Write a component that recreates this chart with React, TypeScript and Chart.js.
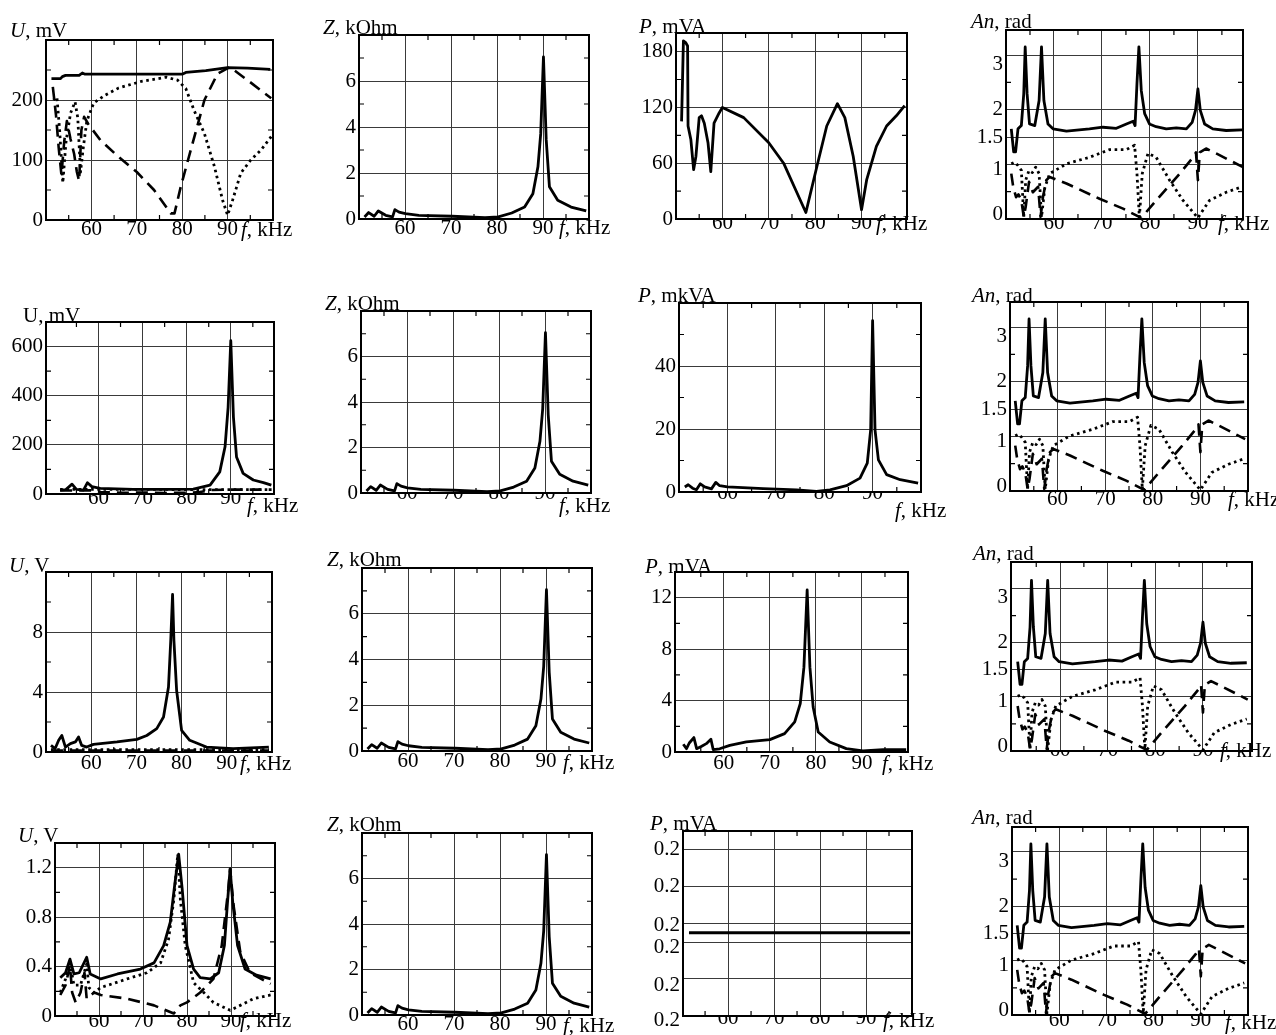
import React, { useEffect, useRef } from "react";
import { Chart, registerables } from "chart.js";
Chart.register(...registerables);

const FONT = '"Liberation Serif", "Times New Roman", serif';
const FS = 21;

// ---------- frequency ticks ----------
const fTicks = [60, 70, 80, 90];
const fMinor = [55, 65, 75, 85, 95];

// ---------- Row 1: U, mV ----------
const u1SolidF = [51.2, 53.2, 53.6, 54.3, 57.3, 58.0, 58.6, 60, 70, 80, 80.8, 85.2, 90, 94.4, 99.4];
const u1SolidV = [235.6, 235.6, 239, 241, 241, 245, 243, 243, 243, 243, 246, 249, 254, 253, 251];
const u1DotF = [51.6, 52.4, 53.0, 53.7, 54.4, 55.4, 56.4, 57.0, 57.6, 58.2, 59.0, 60.5, 63, 66, 71, 76.5, 79, 80.8, 82.6, 84.9, 87.1, 88.9, 90.0, 91.1, 92.9, 95.1, 97.4, 99.6];
const u1DotV = [200, 205, 150, 62, 130, 178, 197, 170, 80, 120, 165, 195, 208, 220, 231, 238, 233, 219, 183, 144, 89, 33, 8, 33, 78, 100, 117, 139];
const u1DashF = [51.5, 52.2, 52.8, 53.4, 54.0, 54.6, 55.4, 56.2, 56.8, 57.3, 57.8, 58.4, 59.3, 62, 66, 70, 73.8, 77.5, 78.3, 79.7, 81.9, 84.9, 87.8, 90.5, 94.4, 99.6];
const u1DashV = [222, 175, 120, 75, 130, 165, 135, 110, 80, 65, 150, 172, 160, 133, 105, 80, 50, 11, 11, 56, 117, 200, 244, 255, 233, 203];

// ---------- Z, kOhm (same in every row) ----------
const zF = [51.2, 52.1, 53.3, 54.2, 55.8, 57.3, 57.8, 58.7, 60.1, 63, 70.2, 77.4, 80.3, 83.2, 86, 87.8, 88.9, 89.5, 90.1, 90.7, 91.4, 93.2, 96.1, 99.4];
const zV = [0.09, 0.28, 0.12, 0.35, 0.16, 0.09, 0.41, 0.30, 0.23, 0.16, 0.12, 0.06, 0.09, 0.26, 0.52, 1.1, 2.27, 3.7, 7.05, 3.44, 1.4, 0.82, 0.52, 0.35];

// ---------- Row 1: P, mVA ----------
const p1F = [51.2, 51.6, 52.1, 52.5, 52.6, 53.2, 53.8, 54.3, 55.0, 55.5, 56.1, 56.9, 57.5, 58.2, 59.3, 60, 64.6, 70, 73.2, 76.1, 78, 80.4, 82.5, 84.8, 86.4, 88.2, 90, 91.1, 93.2, 95.4, 97.5, 99.3];
const p1V = [105, 191.5, 189.7, 186, 100, 85.5, 53, 67.5, 109, 111, 103, 82, 51, 103, 114, 120, 109, 82, 60, 28, 7, 57, 100, 124, 109, 67.5, 10, 42, 78, 100, 111, 122];

// ---------- An, rad (same in every row) ----------
const anSolidF = [51.1, 51.6, 52.0, 52.5, 53.2, 53.7, 54.0, 54.4, 54.9, 56.0, 56.9, 57.4, 57.9, 58.75, 59.8, 62.6, 67.4, 70.2, 73, 75.1, 76.5, 76.9, 77.3, 77.7, 78.2, 78.9, 79.9, 81.3, 83.4, 85.5, 87.6, 88.8, 89.5, 90.0, 90.5, 91.4, 93.1, 95.9, 99.2];
const anSolidV = [1.65, 1.23, 1.23, 1.65, 1.71, 2.29, 3.15, 2.29, 1.74, 1.71, 2.17, 3.15, 2.17, 1.74, 1.65, 1.61, 1.65, 1.68, 1.66, 1.74, 1.79, 1.71, 2.48, 3.15, 2.35, 1.93, 1.74, 1.69, 1.65, 1.67, 1.65, 1.77, 1.99, 2.38, 1.99, 1.74, 1.65, 1.62, 1.63];
const anDotF = [51.1, 51.8, 52.5, 53.2, 53.7, 54.1, 54.8, 55.5, 56.2, 56.9, 57.4, 58.1, 59.1, 62.6, 67.4, 71.6, 75.1, 76.8, 77.3, 77.8, 78.4, 79.6, 81.3, 84.1, 86.9, 90.0, 92.4, 95.9, 99.2];
const anDotV = [1.01, 1.04, 0.98, 0.89, 0.03, 0.71, 0.89, 0.85, 0.95, 0.83, 0.03, 0.58, 0.83, 1.01, 1.13, 1.27, 1.27, 1.35, 0.83, 0.03, 0.83, 1.2, 1.13, 0.71, 0.34, 0.02, 0.34, 0.49, 0.59];
const anDashF = [51.1, 51.5, 52.1, 52.6, 53.2, 53.7, 54.1, 54.8, 55.6, 56.7, 57.2, 57.7, 58.4, 59.1, 62.6, 69.5, 74.4, 78.2, 81.3, 86.2, 89.0, 89.6, 90.0, 90.4, 91.7, 93.8, 99.4];
const anDashV = [0.83, 0.59, 0.40, 0.45, 0.34, 0.04, 0.22, 0.68, 0.49, 0.59, 0.04, 0.40, 0.71, 0.77, 0.65, 0.37, 0.19, 0.02, 0.34, 0.83, 1.13, 1.22, 0.71, 1.22, 1.29, 1.2, 0.95];

// ---------- Row 2: U, mV ----------
const u2SolidF = [51.3, 52.6, 54.0, 55.0, 56.6, 57.5, 58.5, 60.4, 67.9, 75.5, 81.5, 85.3, 87.5, 88.7, 89.4, 90.0, 90.6, 91.3, 92.8, 95.1, 97.4, 99.2];
const u2SolidV = [16, 18, 40, 19, 16, 46, 30, 23, 19, 19, 20, 36, 90, 192, 354, 624, 313, 151, 84, 57, 46, 36];
const u2DashF = [51.3, 55, 59, 60.5, 65, 70, 75, 80, 83, 85.5, 90, 99.2];
const u2DashV = [14, 14, 15, 8, 5, 6, 4, 5, 8, 16, 18, 18];
const u2DotF = [51.3, 60, 70, 80, 90, 99.2];
const u2DotV = [19, 19, 19, 18, 18, 18];

// ---------- Row 2: P, mkVA ----------
const p2F = [51.2, 51.9, 52.8, 53.6, 54.4, 55.3, 56.7, 57.6, 58.4, 60, 67.4, 74.3, 78.4, 81.2, 84.6, 87.4, 88.9, 89.6, 90, 90.5, 91.2, 92.9, 95.7, 99.4];
const p2V = [1.6, 2.3, 1.2, 0.7, 2.6, 1.6, 1.0, 3.05, 2.0, 1.6, 1.05, 0.7, 0.2, 0.7, 2.0, 4.4, 9.2, 19.7, 54.4, 19.7, 10.2, 5.5, 3.9, 2.8];

// ---------- Row 3: U, V ----------
const u3SolidF = [51.1, 52.0, 52.8, 53.5, 54.3, 55.4, 56.5, 57.2, 57.9, 59.0, 60.5, 65.7, 70.1, 72.3, 74.5, 76.0, 77.1, 77.6, 78.0, 78.3, 78.9, 80.0, 81.8, 85.5, 91.4, 99.3];
const u3SolidV = [0.44, 0.22, 0.78, 1.1, 0.33, 0.56, 0.67, 1.0, 0.44, 0.33, 0.51, 0.67, 0.84, 1.1, 1.56, 2.33, 4.33, 7.44, 10.5, 7.44, 4.1, 1.44, 0.78, 0.33, 0.22, 0.33];
const u3DotF = [51.1, 60, 70, 80, 90, 99.3];
const u3DotV = [0.16, 0.16, 0.15, 0.15, 0.15, 0.16];
const u3DashF = [51.1, 60, 70, 80, 90, 99.3];
const u3DashV = [0.1, 0.1, 0.1, 0.1, 0.1, 0.1];

// ---------- Row 3: P, mVA ----------
const p3F = [51.2, 51.9, 52.5, 53.5, 54.1, 55.2, 56.2, 57.2, 57.7, 59.1, 61.3, 64.9, 70, 73.2, 75.4, 76.6, 77.4, 78.1, 78.7, 79.4, 80.5, 83, 86.6, 90.2, 94.6, 99.6];
const p3V = [0.6, 0.26, 0.7, 1.12, 0.26, 0.45, 0.65, 0.99, 0.18, 0.25, 0.52, 0.78, 0.96, 1.43, 2.34, 3.77, 6.6, 12.6, 6.6, 3.5, 1.56, 0.78, 0.26, 0.08, 0.18, 0.18];

// ---------- Row 4: U, V ----------
const u4SolidF = [51.2, 52.4, 53.4, 54.3, 55.5, 57.2, 58.0, 60.4, 64.2, 69.4, 72.5, 74.7, 76.2, 77.1, 78.1, 78.9, 80, 81.5, 83, 85.3, 87.2, 88.5, 89.2, 89.8, 90.4, 91.5, 93.2, 95.8, 99];
const u4SolidV = [0.31, 0.35, 0.46, 0.34, 0.35, 0.475, 0.34, 0.3, 0.34, 0.38, 0.43, 0.57, 0.76, 1.03, 1.31, 1.03, 0.57, 0.38, 0.31, 0.3, 0.35, 0.57, 0.92, 1.19, 0.92, 0.57, 0.38, 0.33, 0.3];
const u4DashF = [51.2, 52.4, 53.4, 53.9, 54.7, 55.8, 56.7, 57.2, 58.9, 60.4, 66.4, 72.5, 77, 78.5, 80, 83, 86, 87.9, 89.4, 89.8, 90.6, 92.1, 94.3, 99];
const u4DashV = [0.17, 0.25, 0.41, 0.19, 0.11, 0.19, 0.35, 0.14, 0.19, 0.17, 0.14, 0.086, 0.02, 0.086, 0.11, 0.19, 0.3, 0.57, 1.03, 1.19, 0.89, 0.52, 0.35, 0.26];
const u4DotF = [51.2, 52.4, 53.4, 54.3, 55.8, 57.2, 57.7, 58.9, 60.4, 66.4, 70.9, 74, 75.8, 77, 77.9, 78.5, 79.6, 81.5, 83.8, 86, 89.8, 92.1, 95.1, 99];
const u4DotV = [0.19, 0.3, 0.43, 0.25, 0.25, 0.42, 0.23, 0.19, 0.23, 0.3, 0.35, 0.43, 0.62, 0.94, 1.31, 0.94, 0.57, 0.27, 0.19, 0.11, 0.046, 0.086, 0.14, 0.17];

// ---------- Row 4: P, mVA (constant) ----------
const p4F = [51.5, 99.6];
const p4V = [0.19999, 0.19999];
const p4Ticks = [0.1999, 0.19994, 0.19998, 0.2, 0.20004, 0.20008];

type Style = "solid" | "dash" | "dot";
type Series = { f: number[]; v: number[]; style: Style };
type Panel = {
  rect: [number, number, number, number];
  xr: [number, number];
  yr: [number, number];
  yTicks: number[];
  yMinor: number[];
  yOff?: number[];
  yFmt?: (v: number) => string;
  xGap: number;
  series: Series[];
  title: { sym: string; italic: boolean; unit: string; x: number; base: number };
  fl: { x: number; base: number };
};

const zSeries: Series[] = [{ f: zF, v: zV, style: "solid" }];
const anSeries: Series[] = [
  { f: anDashF, v: anDashV, style: "dash" },
  { f: anDotF, v: anDotV, style: "dot" },
  { f: anSolidF, v: anSolidV, style: "solid" },
];
const zTicks = [0, 2, 4, 6];
const zMinor = [1, 3, 5, 7];
const anTicks = [0, 1, 1.5, 2, 3];
const anMinor = [0.5, 2.5];
const anOff = [-5, 5, 0, 0, 9];
const p4Off = [4, 6, 5, 2, 0, 0];

const panels: Panel[] = [
  // Row 1
  { rect: [46, 40, 273, 220], xr: [50, 100], yr: [0, 300], yTicks: [0, 100, 200], yMinor: [50, 150, 250], xGap: 16,
    series: [{ f: u1DashF, v: u1DashV, style: "dash" }, { f: u1DotF, v: u1DotV, style: "dot" }, { f: u1SolidF, v: u1SolidV, style: "solid" }],
    title: { sym: "U", italic: true, unit: ", mV", x: 10, base: 37 }, fl: { x: 241, base: 236 } },
  { rect: [359, 35, 589, 219], xr: [50, 100], yr: [0, 8], yTicks: zTicks, yMinor: zMinor, xGap: 15.5, series: zSeries,
    title: { sym: "Z", italic: true, unit: ", kOhm", x: 323, base: 34 }, fl: { x: 559, base: 234 } },
  { rect: [676, 33, 907, 219], xr: [50, 99.8], yr: [0, 200], yTicks: [0, 60, 120, 180], yMinor: [30, 90, 150], xGap: 11,
    series: [{ f: p1F, v: p1V, style: "solid" }],
    title: { sym: "P", italic: true, unit: ", mVA", x: 639, base: 33 }, fl: { x: 876, base: 230 } },
  { rect: [1006, 29, 1243, 219], xr: [50, 99.4], yr: [0, 3.46], yTicks: anTicks, yMinor: anMinor, yOff: anOff, xGap: 11.3, series: anSeries,
    title: { sym: "An", italic: true, unit: ", rad", x: 971, base: 28 }, fl: { x: 1218, base: 230 } },
  // Row 2
  { rect: [46, 322, 274, 494], xr: [48.1, 99.8], yr: [0, 700], yTicks: [0, 200, 400, 600], yMinor: [100, 300, 500], xGap: 11,
    series: [{ f: u2DashF, v: u2DashV, style: "dash" }, { f: u2DotF, v: u2DotV, style: "dot" }, { f: u2SolidF, v: u2SolidV, style: "solid" }],
    title: { sym: "U", italic: false, unit: ", mV", x: 23, base: 322 }, fl: { x: 247, base: 512 } },
  { rect: [361, 311, 591, 493], xr: [50, 100], yr: [0, 8], yTicks: zTicks, yMinor: zMinor, xGap: 7, series: zSeries,
    title: { sym: "Z", italic: true, unit: ", kOhm", x: 325, base: 310 }, fl: { x: 559, base: 512 } },
  { rect: [679, 303, 921, 492], xr: [50, 100], yr: [0, 60], yTicks: [0, 20, 40], yMinor: [10, 30, 50], xGap: 8.4,
    series: [{ f: p2F, v: p2V, style: "solid" }],
    title: { sym: "P", italic: true, unit: ", mkVA", x: 638, base: 302 }, fl: { x: 895, base: 517 } },
  { rect: [1010, 301, 1248, 491], xr: [50, 100], yr: [0, 3.46], yTicks: anTicks, yMinor: anMinor, yOff: anOff, xGap: 15, series: anSeries,
    title: { sym: "An", italic: true, unit: ", rad", x: 972, base: 302 }, fl: { x: 1228, base: 506 } },
  // Row 3
  { rect: [46, 572, 272, 752], xr: [50, 100], yr: [0, 12], yTicks: [0, 4, 8], yMinor: [2, 6, 10], xGap: 18.3,
    series: [{ f: u3DashF, v: u3DashV, style: "dash" }, { f: u3DotF, v: u3DotV, style: "dot" }, { f: u3SolidF, v: u3SolidV, style: "solid" }],
    title: { sym: "U", italic: true, unit: ", V", x: 9, base: 572 }, fl: { x: 240, base: 770 } },
  { rect: [362, 568, 592, 751], xr: [50, 100], yr: [0, 8], yTicks: zTicks, yMinor: zMinor, xGap: 17, series: zSeries,
    title: { sym: "Z", italic: true, unit: ", kOhm", x: 327, base: 566 }, fl: { x: 563, base: 769 } },
  { rect: [675, 572, 908, 752], xr: [49.4, 100], yr: [0, 14], yTicks: [0, 4, 8, 12], yMinor: [2, 6, 10], xGap: 17.6,
    series: [{ f: p3F, v: p3V, style: "solid" }],
    title: { sym: "P", italic: true, unit: ", mVA", x: 645, base: 573 }, fl: { x: 882, base: 770 } },
  { rect: [1011, 561, 1252, 751], xr: [49.7, 100.3], yr: [0, 3.49], yTicks: anTicks, yMinor: anMinor, yOff: anOff, xGap: 6, series: anSeries,
    title: { sym: "An", italic: true, unit: ", rad", x: 973, base: 560 }, fl: { x: 1220, base: 757 } },
  // Row 4
  { rect: [55, 843, 275, 1016], xr: [50, 100], yr: [0, 1.4], yTicks: [0, 0.4, 0.8, 1.2], yMinor: [0.2, 0.6, 1.0], xGap: 12.3,
    series: [{ f: u4DashF, v: u4DashV, style: "dash" }, { f: u4DotF, v: u4DotV, style: "dot" }, { f: u4SolidF, v: u4SolidV, style: "solid" }],
    title: { sym: "U", italic: true, unit: ", V", x: 18, base: 842 }, fl: { x: 240, base: 1027 } },
  { rect: [362, 833, 592, 1015], xr: [50, 100], yr: [0, 8], yTicks: zTicks, yMinor: zMinor, xGap: 16, series: zSeries,
    title: { sym: "Z", italic: true, unit: ", kOhm", x: 327, base: 831 }, fl: { x: 563, base: 1032 } },
  { rect: [683, 831, 912, 1016], xr: [50.2, 100], yr: [0.1999, 0.2001], yTicks: p4Ticks, yMinor: [], yOff: p4Off, xGap: 9.3,
    yFmt: (v) => v.toFixed(1), series: [{ f: p4F, v: p4V, style: "solid" }],
    title: { sym: "P", italic: true, unit: ", mVA", x: 650, base: 830 }, fl: { x: 883, base: 1027 } },
  { rect: [1012, 826, 1248, 1015], xr: [50, 100], yr: [0, 3.46], yTicks: anTicks, yMinor: anMinor, yOff: anOff, xGap: 12, series: anSeries,
    title: { sym: "An", italic: true, unit: ", rad", x: 972, base: 824 }, fl: { x: 1225, base: 1029 } },
];

const PL = 60, PR = 20, PT = 20, PB = 45;

const frame = {
  id: "frame",
  afterDraw(chart: any) {
    const { ctx, chartArea: a, scales } = chart;
    const p: Panel = chart.options.plugins.frame.panel;
    ctx.save();
    ctx.strokeStyle = "#000";
    ctx.lineWidth = 1.2;
    const t = 5;
    ctx.beginPath();
    for (const v of fMinor) {
      const x = scales.x.getPixelForValue(v);
      ctx.moveTo(x, a.bottom); ctx.lineTo(x, a.bottom - t);
      ctx.moveTo(x, a.top); ctx.lineTo(x, a.top + t);
    }
    for (const v of p.yMinor) {
      const y = scales.y.getPixelForValue(v);
      ctx.moveTo(a.left, y); ctx.lineTo(a.left + t, y);
      ctx.moveTo(a.right, y); ctx.lineTo(a.right - t, y);
    }
    ctx.stroke();
    ctx.lineWidth = 2;
    ctx.strokeRect(a.left, a.top, a.right - a.left, a.bottom - a.top);
    ctx.restore();
  },
};

function PanelChart({ p }: { p: Panel }) {
  const ref = useRef<HTMLCanvasElement>(null);
  const [L, T, R, B] = p.rect;
  const W = R - L + PL + PR;
  const H = B - T + PT + PB;
  useEffect(() => {
    const font = { family: FONT, size: FS, lineHeight: 1 };
    const offAt = (i: number) => (p.yOff ? p.yOff[i] || 0 : 0);
    const styleOf = (s: Style) =>
      s === "dash" ? { borderDash: [12, 7], borderWidth: 2.6 } :
      s === "dot" ? { borderDash: [2.6, 3.6], borderWidth: 2.8 } :
      { borderDash: [], borderWidth: 2.8 };
    const chart = new Chart(ref.current!, {
      type: "line",
      data: {
        datasets: p.series.map((s) => ({
          data: s.f.map((f, i) => ({ x: f, y: s.v[i] })),
          borderColor: "#000",
          backgroundColor: "#000",
          pointRadius: 0,
          tension: 0,
          fill: false,
          borderJoinStyle: "round" as const,
          ...styleOf(s.style),
        })),
      },
      options: {
        responsive: false,
        animation: false,
        events: [],
        layout: { padding: { top: PT, right: PR, left: 0, bottom: 0 } },
        plugins: { legend: { display: false }, tooltip: { enabled: false }, frame: { panel: p } } as any,
        scales: {
          x: {
            type: "linear",
            min: p.xr[0],
            max: p.xr[1],
            afterBuildTicks: (s: any) => { s.ticks = fTicks.map((v) => ({ value: v })); },
            afterFit: (s: any) => { s.height = PB; },
            ticks: { font, color: "#000", padding: p.xGap - 17, maxRotation: 0, autoSkip: false, callback: (v: any) => String(v) },
            grid: { color: "#3a3a3a", lineWidth: 1, drawTicks: false },
            border: { display: false },
          },
          y: {
            type: "linear",
            min: p.yr[0],
            max: p.yr[1],
            afterBuildTicks: (s: any) => { s.ticks = p.yTicks.map((v) => ({ value: v })); },
            afterFit: (s: any) => { s.width = PL; },
            ticks: {
              font: (c: any) => {
                const o = offAt(c.index);
                return { family: FONT, size: FS, lineHeight: o ? `${2 * Math.abs(o)}px` : 1 };
              },
              color: "#000",
              padding: 3,
              autoSkip: false,
              callback: (v: any, i: number) => {
                const txt = p.yFmt ? p.yFmt(Number(v)) : String(v);
                const o = offAt(i);
                return o > 0 ? ["", txt] : o < 0 ? [txt, ""] : txt;
              },
            },
            grid: { color: "#3a3a3a", lineWidth: 1, drawTicks: false },
            border: { display: false },
          },
        },
      },
      plugins: [frame],
    } as any);
    return () => chart.destroy();
  }, []);
  return (
    <canvas
      ref={ref}
      width={W}
      height={H}
      style={{ position: "absolute", left: L - PL, top: T - PT, width: W, height: H }}
    />
  );
}

const textStyle = (x: number, base: number): React.CSSProperties => ({
  position: "absolute",
  left: x,
  top: base - 16.8,
  fontFamily: FONT,
  fontSize: FS,
  lineHeight: "20px",
  whiteSpace: "nowrap",
  color: "#000",
});

export default function App() {
  return (
    <div style={{ position: "absolute", left: 0, top: 0, width: 1276, height: 1035, background: "#fff", overflow: "hidden" }}>
      {panels.map((p, i) => (
        <PanelChart key={i} p={p} />
      ))}
      {panels.map((p, i) => (
        <div key={"t" + i} style={textStyle(p.title.x, p.title.base)}>
          {p.title.italic ? <i>{p.title.sym}</i> : p.title.sym}
          {p.title.unit}
        </div>
      ))}
      {panels.map((p, i) => (
        <div key={"f" + i} style={textStyle(p.fl.x, p.fl.base)}>
          <i>f</i>, kHz
        </div>
      ))}
    </div>
  );
}
